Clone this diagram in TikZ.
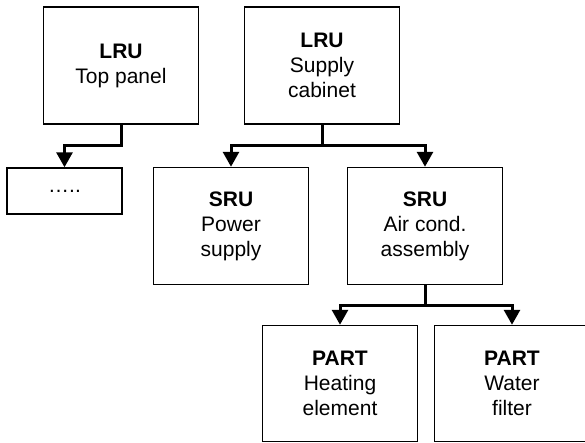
\documentclass[tikz,border=0pt]{standalone}
\usepackage{fontspec}
\setmainfont{Liberation Sans}
\usetikzlibrary{arrows.meta}

\tikzset{
  caixa/.style={draw, line width=1.5pt, align=center, minimum width=155pt,
    minimum height=117pt, inner sep=0pt, font=\fontsize{21}{25}\selectfont},
  ligacao/.style={line width=3pt, -{Triangle[width=16pt, length=15pt]}}
}

\begin{document}
\begin{tikzpicture}[x=1pt, y=1pt]
    \clip (0,0) rectangle (585,-442);

    % Primeiro nível: as duas LRU.
    \node[caixa] (topo) at (121,-65.5) {\textbf{LRU}\\Top panel};
    \node[caixa] (armario) at (322,-65.5) {\textbf{LRU}\\Supply\\cabinet};

    % Segundo nível.
    \node[caixa, minimum width=115pt, minimum height=46pt] (pontos) at (64.5,-191) {…..};
    \node[caixa] (fonte) at (231,-226) {\textbf{SRU}\\Power\\supply};
    \node[caixa] (ar) at (425,-226) {\textbf{SRU}\\Air cond.\\assembly};

    % Terceiro nível: as peças.
    \node[caixa, minimum height=116pt] (aquec) at (340,-383.5) {\textbf{PART}\\Heating\\element};
    \node[caixa, minimum height=116pt] (filtro) at (512,-383.5) {\textbf{PART}\\Water\\filter};

    % Ligações em árvore.
    \draw[ligacao] (topo.south) -- ++(0,-21) -| (pontos.north);
    \draw[ligacao] (armario.south) -- ++(0,-21) -| (fonte.north);
    \draw[ligacao] (armario.south) -- ++(0,-21) -| (ar.north);
    \draw[ligacao] (ar.south) -- ++(0,-20) -| (aquec.north);
    \draw[ligacao] (ar.south) -- ++(0,-20) -| (filtro.north);
\end{tikzpicture}
\end{document}
